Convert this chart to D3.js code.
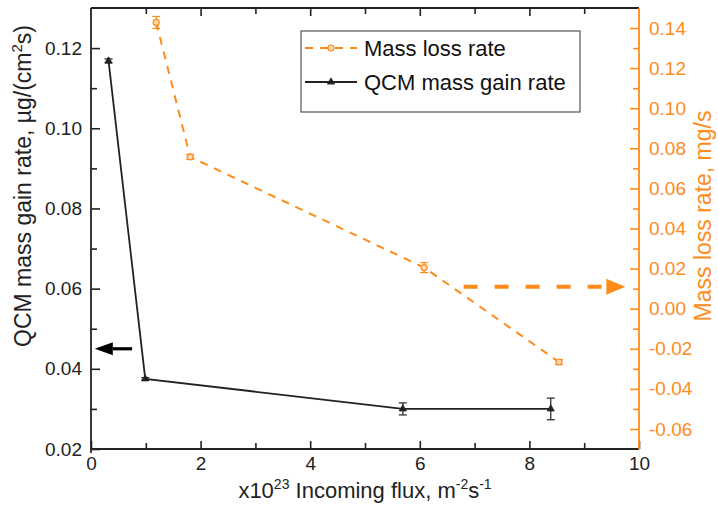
<!DOCTYPE html>
<html>
<head>
<meta charset="utf-8">
<script src="https://cdn.jsdelivr.net/npm/d3@7"></script>
<style>
  html, body { margin: 0; padding: 0; background: #fff; }
  svg { display: block; font-family: "Liberation Sans", Arial, sans-serif; }
</style>
</head>
<body>
<svg id="chart" width="718" height="516"></svg>
<script>
// Incoming flux (x10^23 m^-2 s^-1) for each series
const fluxQcm = [0.32, 0.99, 5.69, 8.39];
const qcmGain = [0.1168, 0.0375, 0.0300, 0.0300];
const qcmErr = [0.0005, 0.0003, 0.0015, 0.0027];

const fluxLoss = [1.19, 1.81, 6.08, 8.54];
const massLoss = [0.1428, 0.0757, 0.0205, -0.0266];
const lossErr = [0.0030, 0.0012, 0.0025, 0.0012];

const xTicks = [0, 2, 4, 6, 8, 10];
const xMinor = [1, 3, 5, 7, 9];
const yLeftTicks = [0.02, 0.04, 0.06, 0.08, 0.10, 0.12];
const yLeftMinor = [0.03, 0.05, 0.07, 0.09, 0.11];
const yRightTicks = [-0.06, -0.04, -0.02, 0.00, 0.02, 0.04, 0.06, 0.08, 0.10, 0.12, 0.14];
const yRightMinor = [-0.05, -0.03, -0.01, 0.01, 0.03, 0.05, 0.07, 0.09, 0.11, 0.13];

const seriesNames = ["Mass loss rate", "QCM mass gain rate"];

// Arrows telling which axis each curve belongs to (data units)
const leftArrow = { x0: 0.75, x1: 0.07, y: 0.045 };
const rightArrow = { x0: 6.8, x1: 9.75, y: 0.011 };

const ORANGE = "#ff8b1a";
const INK = "#222";

const svg = d3.select("#chart");
const plot = { left: 91, right: 639, top: 8, bottom: 449 };

const x = d3.scaleLinear().domain([0, 10]).range([plot.left, plot.right]);
const yL = d3.scaleLinear().domain([0.02, 0.13]).range([plot.bottom, plot.top]);
const yR = d3.scaleLinear().domain([-0.07, 0.15]).range([plot.bottom, plot.top]);

function styleAxis(g, color, size) {
  g.selectAll(".domain").remove();
  g.selectAll("line").attr("stroke", color).attr("stroke-width", 1.6);
  g.selectAll("text").attr("fill", color).attr("font-size", size)
    .attr("font-family", "Liberation Sans, Arial, sans-serif");
}

// Bottom axis
svg.append("g").attr("transform", `translate(0,${plot.bottom})`)
  .call(d3.axisBottom(x).tickValues(xTicks).tickSize(-8).tickPadding(8).tickFormat(d3.format("d")))
  .call(g => styleAxis(g, INK, 19));
svg.append("g").attr("transform", `translate(0,${plot.bottom})`)
  .call(d3.axisBottom(x).tickValues(xMinor).tickSize(-6).tickFormat(""))
  .call(g => styleAxis(g, INK, 19));

// Top border ticks
svg.append("g").attr("transform", `translate(0,${plot.top})`)
  .call(d3.axisTop(x).tickValues(xTicks.filter(d => d > 0 && d < 10)).tickSize(-8).tickFormat(""))
  .call(g => styleAxis(g, INK, 19));
svg.append("g").attr("transform", `translate(0,${plot.top})`)
  .call(d3.axisTop(x).tickValues(xMinor).tickSize(-6).tickFormat(""))
  .call(g => styleAxis(g, INK, 19));

// Left axis
svg.append("g").attr("transform", `translate(${plot.left},0)`)
  .call(d3.axisLeft(yL).tickValues(yLeftTicks).tickSize(-9).tickPadding(9).tickFormat(d3.format(".2f")))
  .call(g => styleAxis(g, INK, 19));
svg.append("g").attr("transform", `translate(${plot.left},0)`)
  .call(d3.axisLeft(yL).tickValues(yLeftMinor).tickSize(-6).tickFormat(""))
  .call(g => styleAxis(g, INK, 19));

// Right axis
const fmtR = d => d.toFixed(2);
svg.append("g").attr("transform", `translate(${plot.right},0)`)
  .call(d3.axisRight(yR).tickValues(yRightTicks).tickSize(-9).tickPadding(10).tickFormat(fmtR))
  .call(g => styleAxis(g, ORANGE, 19));
svg.append("g").attr("transform", `translate(${plot.right},0)`)
  .call(d3.axisRight(yR).tickValues(yRightMinor).tickSize(-6).tickFormat(""))
  .call(g => styleAxis(g, ORANGE, 19));

// Frame lines
svg.append("line").attr("x1", plot.left).attr("x2", plot.right).attr("y1", plot.top).attr("y2", plot.top)
  .attr("stroke", INK).attr("stroke-width", 1.8);
svg.append("line").attr("x1", plot.left).attr("x2", plot.right).attr("y1", plot.bottom).attr("y2", plot.bottom)
  .attr("stroke", INK).attr("stroke-width", 1.8);
svg.append("line").attr("x1", plot.left).attr("x2", plot.left).attr("y1", plot.top).attr("y2", plot.bottom + 4)
  .attr("stroke", INK).attr("stroke-width", 1.8);
svg.append("line").attr("x1", plot.right).attr("x2", plot.right).attr("y1", plot.top).attr("y2", plot.bottom)
  .attr("stroke", ORANGE).attr("stroke-width", 1.8);

// Mass loss series (right axis)
const lossData = fluxLoss.map((f, i) => ({ x: f, y: massLoss[i], e: lossErr[i] }));
svg.append("path").datum(lossData)
  .attr("fill", "none").attr("stroke", ORANGE).attr("stroke-width", 2)
  .attr("stroke-dasharray", "8,7")
  .attr("d", d3.line().x(d => x(d.x)).y(d => yR(d.y)));

const lossG = svg.append("g").selectAll("g").data(lossData).join("g");
lossG.append("line").attr("x1", d => x(d.x)).attr("x2", d => x(d.x))
  .attr("y1", d => yR(d.y - d.e)).attr("y2", d => yR(d.y + d.e))
  .attr("stroke", ORANGE).attr("stroke-width", 1.2);
[-1, 1].forEach(s => {
  lossG.append("line").attr("x1", d => x(d.x) - 4).attr("x2", d => x(d.x) + 4)
    .attr("y1", d => yR(d.y + s * d.e)).attr("y2", d => yR(d.y + s * d.e))
    .attr("stroke", ORANGE).attr("stroke-width", 1.2);
});
lossG.append("circle").attr("cx", d => x(d.x)).attr("cy", d => yR(d.y)).attr("r", 3)
  .attr("fill", "#ffd9b0").attr("stroke", ORANGE).attr("stroke-width", 1.2);

// QCM series (left axis)
const qcmData = fluxQcm.map((f, i) => ({ x: f, y: qcmGain[i], e: qcmErr[i] }));
svg.append("path").datum(qcmData)
  .attr("fill", "none").attr("stroke", INK).attr("stroke-width", 1.8)
  .attr("d", d3.line().x(d => x(d.x)).y(d => yL(d.y)));

const qcmG = svg.append("g").selectAll("g").data(qcmData).join("g");
qcmG.append("line").attr("x1", d => x(d.x)).attr("x2", d => x(d.x))
  .attr("y1", d => yL(d.y - d.e)).attr("y2", d => yL(d.y + d.e))
  .attr("stroke", INK).attr("stroke-width", 1.2);
[-1, 1].forEach(s => {
  qcmG.append("line").attr("x1", d => x(d.x) - 4).attr("x2", d => x(d.x) + 4)
    .attr("y1", d => yL(d.y + s * d.e)).attr("y2", d => yL(d.y + s * d.e))
    .attr("stroke", INK).attr("stroke-width", 1.2);
});
const tri = d3.symbol().type(d3.symbolTriangle).size(22);
qcmG.append("path").attr("d", tri)
  .attr("transform", d => `translate(${x(d.x)},${yL(d.y)})`)
  .attr("fill", INK).attr("stroke", INK).attr("stroke-width", 0.8);

// Axis-pointer arrows
function arrow(x0, x1, y, color, width, headLen, headHalf, dash) {
  const dir = Math.sign(x1 - x0);
  svg.append("line").attr("x1", x0).attr("x2", x1 - dir * headLen).attr("y1", y).attr("y2", y)
    .attr("stroke", color).attr("stroke-width", width).attr("stroke-dasharray", dash || null);
  svg.append("path")
    .attr("d", `M${x1},${y}L${x1 - dir * headLen},${y - headHalf}L${x1 - dir * headLen},${y + headHalf}Z`)
    .attr("fill", color);
}
arrow(x(leftArrow.x0), x(leftArrow.x1), yL(leftArrow.y), "#000", 3.2, 18, 6.5);
arrow(x(rightArrow.x0), x(rightArrow.x1), yR(rightArrow.y), ORANGE, 4, 19, 8, "14,17");

// Legend
const lg = svg.append("g");
lg.append("rect").attr("x", 301).attr("y", 31).attr("width", 279).attr("height", 81)
  .attr("fill", "#fff").attr("stroke", "#555").attr("stroke-width", 1.2);
const rows = [
  { name: seriesNames[0], color: ORANGE, dash: "8,7", y: 48 },
  { name: seriesNames[1], color: INK, dash: null, y: 82 }
];
rows.forEach((r, i) => {
  lg.append("line").attr("x1", 305).attr("x2", 357).attr("y1", r.y).attr("y2", r.y)
    .attr("stroke", r.color).attr("stroke-width", i === 0 ? 2 : 1.8)
    .attr("stroke-dasharray", r.dash);
  if (i === 0) {
    lg.append("circle").attr("cx", 331).attr("cy", r.y).attr("r", 3)
      .attr("fill", "#ffd9b0").attr("stroke", ORANGE).attr("stroke-width", 1.2);
  } else {
    lg.append("path").attr("d", tri).attr("transform", `translate(331,${r.y})`)
      .attr("fill", INK).attr("stroke", INK).attr("stroke-width", 0.8);
  }
  lg.append("text").attr("x", 364).attr("y", r.y).attr("dy", "0.35em")
    .attr("font-size", 22).attr("fill", "#111").text(r.name);
});

// Axis titles
const xt = svg.append("text").attr("x", (plot.left + plot.right) / 2).attr("y", 498)
  .attr("text-anchor", "middle").attr("font-size", 22).attr("fill", INK);
xt.append("tspan").text("x10");
xt.append("tspan").attr("font-size", 14).attr("dy", -9).text("23");
xt.append("tspan").attr("dy", 9).text(" Incoming flux, m");
xt.append("tspan").attr("font-size", 14).attr("dy", -9).text("-2");
xt.append("tspan").attr("dy", 9).text("s");
xt.append("tspan").attr("font-size", 14).attr("dy", -9).text("-1");

const yt = svg.append("text").attr("transform", "translate(31,186) rotate(-90)")
  .attr("text-anchor", "middle").attr("font-size", 23).attr("fill", INK);
yt.append("tspan").text("QCM mass gain rate, \u00b5g/(cm");
yt.append("tspan").attr("font-size", 15).attr("dy", -9).text("2");
yt.append("tspan").attr("dy", 9).text("s)");

svg.append("text").attr("transform", "translate(711,216) rotate(-90)")
  .attr("text-anchor", "middle").attr("font-size", 23).attr("fill", ORANGE)
  .text("Mass loss rate, mg/s");
</script>
</body>
</html>
